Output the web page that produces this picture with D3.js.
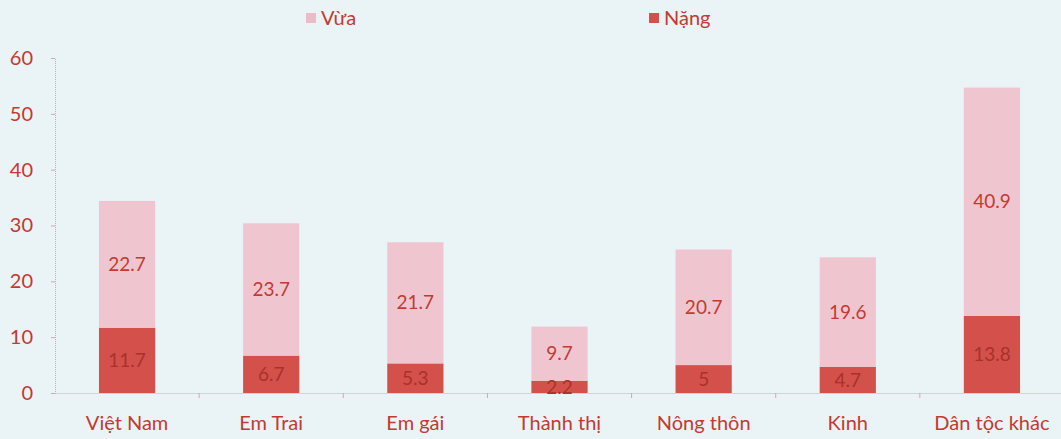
<!DOCTYPE html>
<html><head><meta charset="utf-8">
<script src="https://cdn.jsdelivr.net/npm/d3@7"></script>
<style>html,body{margin:0;padding:0;background:#eaf3f6;}svg{display:block;}</style>
</head><body>
<svg id="c" width="1061" height="439"></svg>
<script>
const categories = ["Việt Nam","Em Trai","Em gái","Thành thị","Nông thôn","Kinh","Dân tộc khác"];
const nang = [11.7, 6.7, 5.3, 2.2, 5, 4.7, 13.8];
const vua = [22.7, 23.7, 21.7, 9.7, 20.7, 19.6, 40.9];
const yTicks = [0,10,20,30,40,50,60];
const seriesNames = ["Vừa","Nặng"];

const W = 1061, H = 439;
const svg = d3.select("#c");
const font = "Lato, 'Open Sans', sans-serif";
const red = "#c23a31";
const cLight = "#efc6cf", cDark = "#d4504a";

svg.append("rect").attr("width",W).attr("height",H).attr("fill","#eaf3f6");

const x = d3.scaleBand().domain(categories).range([55,1064]).paddingInner(0.61).paddingOuter(0.305);
const y = d3.scaleLinear().domain([0,60]).range([393,58]);

// axes
const yAxis = svg.append("g").attr("transform","translate(55,0)")
  .call(d3.axisLeft(y).tickValues(yTicks).tickSize(4).tickPadding(18));
yAxis.select(".domain").attr("stroke","#d9a5ad").attr("stroke-dasharray","1,1");
yAxis.selectAll(".tick line").attr("stroke","#d9a5ad");
yAxis.selectAll("text").attr("fill",red).attr("font-family",font).attr("font-size",20);

const xAxis = svg.append("g").attr("transform","translate(0,393)")
  .call(d3.axisBottom(x).tickSize(0).tickPadding(23));
xAxis.select(".domain").attr("stroke","#d9a5ad").attr("stroke-dasharray","1,1");
xAxis.selectAll("text").attr("fill",red).attr("font-family",font).attr("font-size",20);
// tick marks between categories
const step = x.step();
svg.append("g").selectAll("line").data(categories.slice(1)).join("line")
  .attr("x1",d=>x(d)-(step-x.bandwidth())/2).attr("x2",d=>x(d)-(step-x.bandwidth())/2)
  .attr("y1",393).attr("y2",398).attr("stroke","#d9a5ad");

// bars
const g = svg.append("g");
categories.forEach((c,i)=>{
  g.append("rect").attr("x",x(c)).attr("width",x.bandwidth())
    .attr("y",y(nang[i])).attr("height",y(0)-y(nang[i])).attr("fill",cDark);
  g.append("rect").attr("x",x(c)).attr("width",x.bandwidth())
    .attr("y",y(nang[i]+vua[i])).attr("height",y(0)-y(vua[i])).attr("fill",cLight);
  g.append("text").attr("x",x(c)+x.bandwidth()/2).attr("y",y(nang[i]/2)).attr("dy","0.35em")
    .attr("text-anchor","middle").attr("fill","#a8322b").attr("font-family",font).attr("font-size",19)
    .text(nang[i]);
  g.append("text").attr("x",x(c)+x.bandwidth()/2).attr("y",y(nang[i]+vua[i]/2)).attr("dy","0.35em")
    .attr("text-anchor","middle").attr("fill",red).attr("font-family",font).attr("font-size",19)
    .text(vua[i]);
});

// legend
const leg = [{n:seriesNames[0],c:"#ecbcc6",x:306},{n:seriesNames[1],c:cDark,x:649}];
leg.forEach(l=>{
  svg.append("rect").attr("x",l.x).attr("y",13).attr("width",10).attr("height",10).attr("fill",l.c);
  svg.append("text").attr("x",l.x+15).attr("y",18).attr("dy","0.35em").attr("fill",red)
    .attr("font-family",font).attr("font-size",20).text(l.n);
});
</script>
</body></html>
